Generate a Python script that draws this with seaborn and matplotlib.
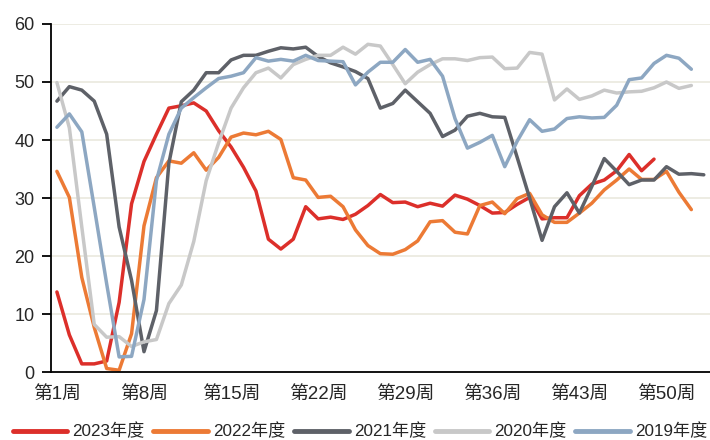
import numpy as np
import pandas as pd
import matplotlib
matplotlib.use("Agg")
import matplotlib.pyplot as plt
import seaborn as sns

# Weekly index values per season
y2023 = [13.8, 6.4, 1.4, 1.4, 1.9, 12.0, 29.0, 36.3, 41.0, 45.5, 45.9, 46.4, 45.0, 41.6,
         38.8, 35.3, 31.2, 22.9, 21.2, 22.9, 28.5, 26.4, 26.7, 26.3, 27.2, 28.7, 30.6,
         29.2, 29.3, 28.5, 29.1, 28.6, 30.5, 29.8, 28.7, 27.4, 27.5, 28.9, 30.1, 26.4,
         26.6, 26.6, 30.4, 32.4, 33.1, 34.7, 37.5, 34.7, 36.7]
y2022 = [34.6, 30.1, 16.3, 7.7, 0.6, 0.3, 6.6, 25.2, 33.5, 36.4, 36.0, 37.8, 34.8, 37.0,
         40.5, 41.2, 40.9, 41.5, 40.1, 33.5, 33.1, 30.1, 30.3, 28.5, 24.5, 21.8, 20.4,
         20.3, 21.1, 22.6, 25.9, 26.1, 24.1, 23.8, 28.7, 29.3, 27.3, 29.9, 30.8, 27.1,
         25.8, 25.8, 27.4, 29.1, 31.4, 33.1, 35.0, 33.2, 33.2, 34.6, 31.0, 28.0]
y2021 = [46.7, 49.2, 48.6, 46.7, 41.0, 25.0, 15.8, 3.5, 10.6, 36.0, 46.6, 48.6, 51.6, 51.6,
         53.8, 54.6, 54.6, 55.3, 55.9, 55.7, 56.0, 54.4, 53.3, 52.6, 51.8, 50.6, 45.5,
         46.3, 48.6, 46.6, 44.6, 40.6, 41.7, 44.1, 44.6, 44.0, 43.9, 37.0, 30.0, 22.7,
         28.5, 30.9, 27.4, 32.0, 36.8, 34.6, 32.3, 33.1, 33.1, 35.4, 34.1, 34.2, 34.0]
y2020 = [49.9, 42.1, 25.0, 8.2, 6.0, 6.1, 4.4, 5.2, 5.6, 11.8, 15.0, 22.5, 33.0, 39.5,
         45.5, 49.0, 51.6, 52.4, 50.7, 53.0, 53.9, 54.6, 54.6, 56.0, 54.8, 56.5, 56.2,
         53.0, 49.7, 51.7, 53.0, 54.0, 54.0, 53.7, 54.2, 54.3, 52.3, 52.4, 55.1, 54.8,
         46.9, 48.8, 47.0, 47.6, 48.6, 48.1, 48.3, 48.4, 49.0, 50.0, 48.9, 49.4]
y2019 = [42.2, 44.5, 41.4, 28.4, 15.2, 2.6, 2.7, 12.5, 33.0, 41.0, 45.5, 47.3, 49.0, 50.6,
         51.0, 51.6, 54.2, 53.6, 53.9, 53.6, 54.6, 53.7, 53.6, 53.5, 49.5, 51.7, 53.4,
         53.4, 55.6, 53.4, 53.9, 51.0, 43.7, 38.6, 39.6, 40.8, 35.4, 39.8, 43.5, 41.5,
         41.9, 43.7, 44.0, 43.8, 43.9, 46.0, 50.4, 50.7, 53.2, 54.6, 54.1, 52.2]

season_names = ["2023年度", "2022年度", "2021年度", "2020年度", "2019年度"]
season_values = [y2023, y2022, y2021, y2020, y2019]
season_colors = ["#DC2F2A", "#EC7A35", "#5E6168", "#C8C8C8", "#8DA7C2"]

tick_weeks = [1, 8, 15, 22, 29, 36, 43, 50]
tick_labels = ["第1周", "第8周", "第15周", "第22周", "第29周", "第36周", "第43周", "第50周"]
n_weeks = 53

frames = []
for name, vals in zip(season_names, season_values):
    frames.append(pd.DataFrame({"week": np.arange(1, len(vals) + 1),
                                "value": vals, "season": name}))
df = pd.concat(frames, ignore_index=True)

sns.set_style("white")
plt.rcParams["font.family"] = ["Liberation Sans", "Noto Sans CJK SC", "DejaVu Sans"]

fig = plt.figure(figsize=(7.1, 4.4), dpi=100)
ax = fig.add_axes([50.7 / 710, 68 / 440, 1 - 50.7 / 710, 348 / 440])

for y in range(10, 70, 10):
    ax.axhline(y, color="#ECEAE0", lw=1.3, zorder=0)

sns.lineplot(data=df, x="week", y="value", hue="season", hue_order=season_names,
             palette=dict(zip(season_names, season_colors)), linewidth=2.5,
             ax=ax, legend=True)

ax.set_xlim(0.5, n_weeks + 0.5)
ax.set_ylim(0, 60)
ax.set_yticks(range(0, 70, 10))
ax.set_xticks(tick_weeks)
ax.set_xticklabels(tick_labels)
ax.set_xticks(np.arange(0.5, n_weeks + 0.5, 5), minor=True)
ax.tick_params(axis="x", which="major", length=0, pad=10, labelsize=13.5)
ax.tick_params(axis="x", which="minor", length=6, width=1.3, color="black", direction="out")
ax.tick_params(axis="y", length=6.5, width=1.3, color="black", direction="out",
               pad=5, labelsize=13, left=True)
ax.set_xlabel("")
ax.set_ylabel("")
for side in ["top", "right"]:
    ax.spines[side].set_visible(False)
for side in ["left", "bottom"]:
    ax.spines[side].set_color("black")
    ax.spines[side].set_linewidth(1.3)

handles, labels = ax.get_legend_handles_labels()
ax.get_legend().remove()
for h in handles:
    h.set_linewidth(3.5)
fig.legend(handles, labels, loc="center", bbox_to_anchor=(0.507, 0.02), ncol=5,
           frameon=False, fontsize=12.3, handlelength=3.2, handletextpad=0.3,
           columnspacing=0.5, borderaxespad=0, borderpad=0)

fig.savefig("out.png", dpi=100)
